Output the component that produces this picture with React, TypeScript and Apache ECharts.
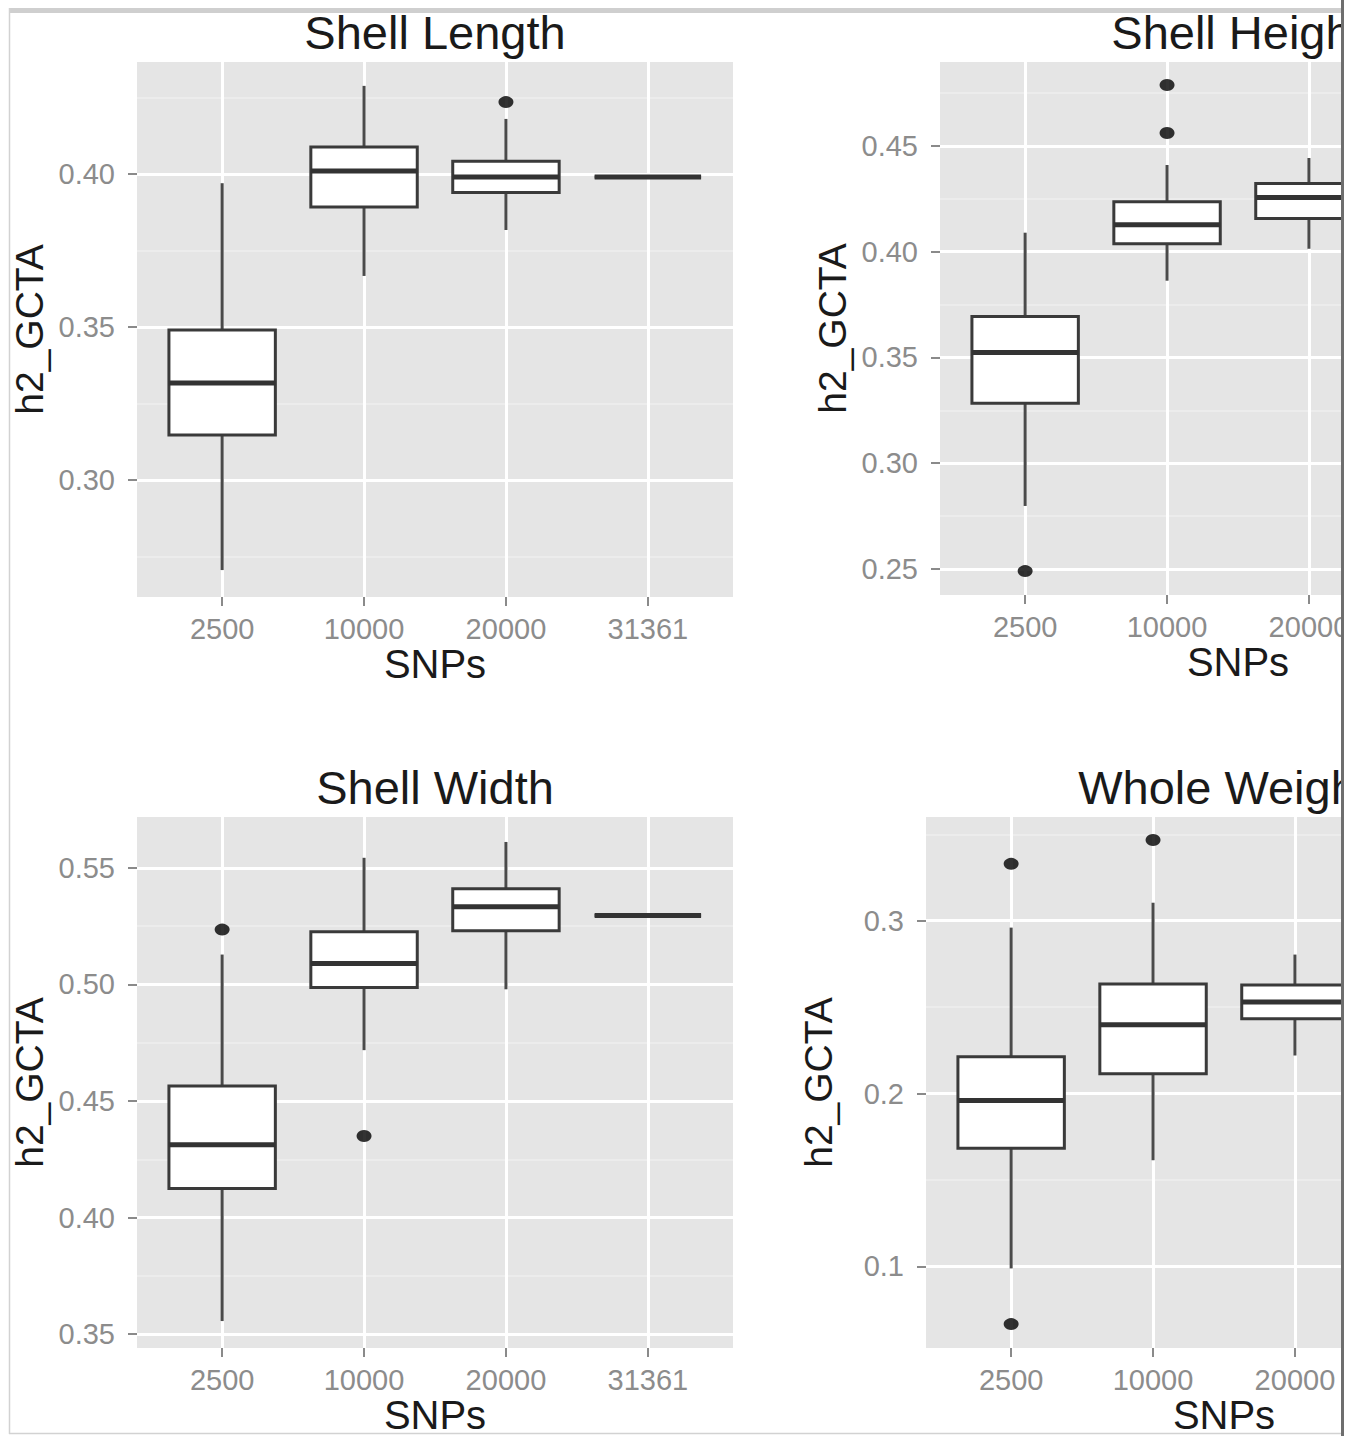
import React, { useEffect, useRef } from "react";
import * as echarts from "echarts";

// SNP categories (x axis)
const snpCategories = ["2500", "10000", "20000", "31361"];

// Box statistics per SNP category: [lower whisker, Q1, median, Q3, upper whisker]
const shellLengthBoxes = [
  [0.2706, 0.3147, 0.3317, 0.349, 0.397],
  [0.3667, 0.3892, 0.401, 0.4088, 0.4288],
  [0.3817, 0.394, 0.399, 0.4042, 0.418],
  [0.399, 0.399, 0.399, 0.399, 0.399],
];
const shellLengthOutliers = [[2, 0.4235]];
const shellLengthTicks = [0.3, 0.35, 0.4];

const shellHeightBoxes = [
  [0.2798, 0.3284, 0.3524, 0.3694, 0.409],
  [0.3863, 0.4038, 0.4128, 0.4236, 0.441],
  [0.4014, 0.4157, 0.4256, 0.4322, 0.4443],
];
const shellHeightOutliers = [
  [0, 0.249],
  [1, 0.4788],
  [1, 0.4561],
];
const shellHeightTicks = [0.25, 0.3, 0.35, 0.4, 0.45];

const shellWidthBoxes = [
  [0.3556, 0.4125, 0.4312, 0.4564, 0.5128],
  [0.4718, 0.4987, 0.509, 0.5226, 0.5543],
  [0.4979, 0.523, 0.5333, 0.541, 0.5611],
  [0.5295, 0.5295, 0.5295, 0.5295, 0.5295],
];
const shellWidthOutliers = [
  [0, 0.5235],
  [1, 0.435],
];
const shellWidthTicks = [0.35, 0.4, 0.45, 0.5, 0.55];

const wholeWeightBoxes = [
  [0.0988, 0.1683, 0.196, 0.2213, 0.296],
  [0.1614, 0.2115, 0.2398, 0.2634, 0.3104],
  [0.222, 0.2432, 0.253, 0.2628, 0.2804],
];
const wholeWeightOutliers = [
  [0, 0.3329],
  [0, 0.0666],
  [1, 0.3467],
];
const wholeWeightTicks = [0.1, 0.2, 0.3];

const FONT = "'Liberation Sans', Arial, Helvetica, sans-serif";
const CHART_W = 1620;
const VIEW_W = 1355;
const VIEW_H = 1436;

const panels = [
  {
    title: "Shell Length",
    grid: { left: 137, top: 62, width: 596, height: 535 },
    yMin: 0.2618,
    yMax: 0.4366,
    ticks: shellLengthTicks,
    decimals: 2,
    boxes: shellLengthBoxes,
    outliers: shellLengthOutliers,
  },
  {
    title: "Shell Height",
    grid: { left: 940, top: 62, width: 596, height: 533 },
    yMin: 0.2377,
    yMax: 0.4897,
    ticks: shellHeightTicks,
    decimals: 2,
    boxes: shellHeightBoxes,
    outliers: shellHeightOutliers,
  },
  {
    title: "Shell Width",
    grid: { left: 137, top: 817, width: 596, height: 533 },
    yMin: 0.344,
    yMax: 0.5718,
    ticks: shellWidthTicks,
    decimals: 2,
    boxes: shellWidthBoxes,
    outliers: shellWidthOutliers,
  },
  {
    title: "Whole Weight",
    grid: { left: 926, top: 817, width: 596, height: 533 },
    yMin: 0.0527,
    yMax: 0.36,
    ticks: wholeWeightTicks,
    decimals: 1,
    boxes: wholeWeightBoxes,
    outliers: wholeWeightOutliers,
  },
];

function minorValues(ticks: number[], min: number, max: number) {
  const step = ticks[1] - ticks[0];
  const out: number[] = [];
  const first = ticks[0] - step / 2;
  for (let i = 0; i <= ticks.length; i++) {
    const v = +(first + i * step).toFixed(4);
    if (v > min && v < max) out.push(v);
  }
  return out;
}

function buildOption() {
  const grid: any[] = [];
  const xAxis: any[] = [];
  const yAxis: any[] = [];
  const minorY: any[] = [];
  const series: any[] = [];
  const title: any[] = [];
  const catIdx = snpCategories.map((_, i) => i);

  panels.forEach((p, i) => {
    grid.push({
      ...p.grid,
      show: true,
      backgroundColor: "#e5e5e5",
      borderWidth: 0,
      containLabel: false,
    });
    title.push({
      text: p.title,
      left: p.grid.left + p.grid.width / 2,
      top: p.grid.top - 53,
      textAlign: "center",
      padding: 0,
      textStyle: {
        fontFamily: FONT,
        fontSize: 47,
        fontWeight: "normal",
        color: "#1a1a1a",
      },
    });
    xAxis.push({
      type: "value",
      gridIndex: i,
      min: -0.6,
      max: 3.6,
      name: "SNPs",
      nameLocation: "middle",
      nameGap: 46,
      nameTextStyle: { fontFamily: FONT, fontSize: 40, color: "#1a1a1a" },
      axisLine: { show: false, onZero: false },
      axisTick: {
        show: true,
        customValues: catIdx,
        length: 9,
        lineStyle: { color: "#8a8a8a", width: 2 },
      },
      axisLabel: {
        customValues: catIdx,
        formatter: (v: number) => snpCategories[Math.round(v)],
        fontFamily: FONT,
        fontSize: 29,
        color: "#8c8c8c",
        margin: 17,
      },
      splitLine: { show: true, lineStyle: { color: "#ffffff", width: 3 } },
    });
    yAxis.push({
      type: "value",
      gridIndex: i,
      min: p.yMin,
      max: p.yMax,
      name: "h2_GCTA",
      nameLocation: "middle",
      nameGap: 88,
      nameRotate: 90,
      nameTextStyle: { fontFamily: FONT, fontSize: 39, color: "#1a1a1a" },
      axisLine: { show: false, onZero: false },
      axisTick: {
        show: true,
        customValues: p.ticks,
        length: 9,
        lineStyle: { color: "#8a8a8a", width: 2 },
      },
      axisLabel: {
        customValues: p.ticks,
        formatter: (v: number) => v.toFixed(p.decimals),
        fontFamily: FONT,
        fontSize: 29,
        color: "#8c8c8c",
        margin: 22,
      },
      splitLine: { show: true, lineStyle: { color: "#ffffff", width: 3 } },
      z: 1,
    });
    const minors = minorValues(p.ticks, p.yMin, p.yMax);
    minorY.push({
      type: "value",
      gridIndex: i,
      min: p.yMin,
      max: p.yMax,
      axisLine: { show: false, onZero: false },
      axisTick: { show: false, customValues: minors },
      axisLabel: { show: false, customValues: minors },
      splitLine: { show: true, lineStyle: { color: "#eeeeee", width: 1.5 } },
      z: 0,
    });

    series.push({
      type: "custom",
      xAxisIndex: i,
      yAxisIndex: i,
      z: 3,
      encode: { x: 0, y: [1, 2, 3, 4, 5] },
      data: p.boxes.map((b, k) => [k, ...b]),
      renderItem: (params: any, api: any) => {
        const x = api.value(0);
        const low = api.coord([x, api.value(1)]);
        const q1 = api.coord([x, api.value(2)]);
        const med = api.coord([x, api.value(3)]);
        const q3 = api.coord([x, api.value(4)]);
        const high = api.coord([x, api.value(5)]);
        const w = api.size([0.75, 0])[0];
        const cx = low[0];
        const edge = "#3a3a3a";
        return {
          type: "group",
          children: [
            {
              type: "line",
              shape: { x1: cx, y1: high[1], x2: cx, y2: q3[1] },
              style: { stroke: "#4a4a4a", lineWidth: 3 },
            },
            {
              type: "line",
              shape: { x1: cx, y1: q1[1], x2: cx, y2: low[1] },
              style: { stroke: "#4a4a4a", lineWidth: 3 },
            },
            {
              type: "rect",
              shape: { x: cx - w / 2, y: q3[1], width: w, height: q1[1] - q3[1] },
              style: { fill: "#ffffff", stroke: edge, lineWidth: 3 },
            },
            {
              type: "line",
              shape: { x1: cx - w / 2, y1: med[1], x2: cx + w / 2, y2: med[1] },
              style: { stroke: "#333333", lineWidth: 5 },
            },
          ],
        };
      },
    });
    series.push({
      type: "scatter",
      xAxisIndex: i,
      yAxisIndex: i,
      z: 4,
      symbol: "circle",
      symbolSize: [15, 12],
      itemStyle: { color: "#000000" },
      data: p.outliers,
    });
  });

  const graphic = [
    {
      type: "rect",
      z: 100,
      shape: { x: 9, y: 8, width: 1333, height: 5 },
      style: { fill: "#cfcfcf" },
    },
    {
      type: "line",
      z: 100,
      shape: { x1: 9.5, y1: 8, x2: 9.5, y2: 1434 },
      style: { stroke: "#d2d2d2", lineWidth: 1.5 },
    },
    {
      type: "line",
      z: 100,
      shape: { x1: 9, y1: 1433.5, x2: 1342, y2: 1433.5 },
      style: { stroke: "#d2d2d2", lineWidth: 1.5 },
    },
    {
      type: "rect",
      z: 100,
      shape: { x: 1343, y: 0, width: CHART_W - 1343, height: VIEW_H },
      style: { fill: "#ffffff" },
    },
    {
      type: "line",
      z: 101,
      shape: { x1: 1342.5, y1: 0, x2: 1342.5, y2: VIEW_H },
      style: { stroke: "#6e6e6e", lineWidth: 3 },
    },
  ];

  return {
    animation: false,
    backgroundColor: "#ffffff",
    textStyle: { fontFamily: FONT },
    title,
    grid,
    xAxis,
    yAxis: [...yAxis, ...minorY],
    series,
    graphic,
  };
}

export default function App() {
  const ref = useRef<HTMLDivElement>(null);
  useEffect(() => {
    document.body.style.margin = "0";
    if (!ref.current) return;
    const chart = echarts.init(ref.current, undefined, { renderer: "svg" });
    chart.setOption(buildOption() as any);
    return () => chart.dispose();
  }, []);
  return (
    <div
      style={{
        width: VIEW_W,
        height: VIEW_H,
        overflow: "hidden",
        position: "relative",
        background: "#ffffff",
      }}
    >
      <div ref={ref} style={{ width: CHART_W, height: VIEW_H }} />
    </div>
  );
}
